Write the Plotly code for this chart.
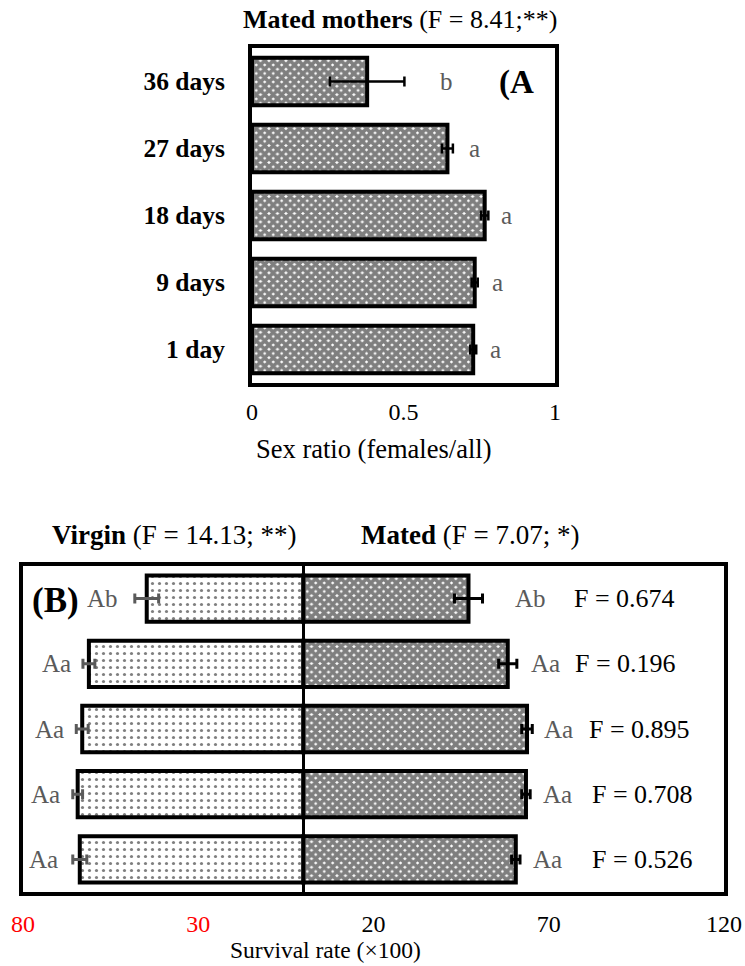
import plotly.graph_objects as go

# ---------------- data ----------------
days = ["1 day", "9 days", "18 days", "27 days", "36 days"]

sex_ratio = [0.730, 0.735, 0.768, 0.645, 0.380]
sex_ratio_err = [0.010, 0.010, 0.012, 0.018, 0.123]
sex_letters = ["a", "a", "a", "a", "b"]

virgin = [63.8, 64.4, 63.1, 61.2, 44.7]
virgin_err = [2.0, 1.4, 1.7, 1.7, 3.4]
virgin_letters = ["Aa", "Aa", "Aa", "Aa", "Ab"]

mated = [60.6, 63.5, 63.8, 58.3, 47.1]
mated_err = [1.2, 1.2, 1.5, 2.6, 4.0]
mated_letters = ["Aa", "Aa", "Aa", "Aa", "Ab"]

f_texts = ["F = 0.526", "F = 0.708", "F = 0.895", "F = 0.196", "F = 0.674"]

b_tickvals = [-80, -30, 20, 70, 120]
b_ticktext = ["80", "30", "20", "70", "120"]
b_tickcolors = ["red", "red", "black", "black", "black"]

# ---------------- style ----------------
W, H = 745, 966
FONT = "Liberation Serif"
GRAY = "#5a5a5a"


def px2x(px):
    return px / W


def px2y(py):
    return 1 - py / H


check = dict(shape="x", bgcolor="white", fgcolor="black", size=6, solidity=0.85)
dots = dict(shape=".", bgcolor="white", fgcolor="black", size=7, solidity=0.16)

fig = go.Figure()

# Panel A
fig.add_trace(go.Bar(
    x=sex_ratio, y=days, orientation="h",
    marker=dict(color="white", pattern=check, line=dict(color="black", width=4)),
    error_x=dict(type="data", array=sex_ratio_err, color="black", thickness=2.5, width=5),
    xaxis="x", yaxis="y", showlegend=False,
))

# Panel B
fig.add_trace(go.Bar(
    x=[-v for v in virgin], y=days, orientation="h",
    marker=dict(color="white", pattern=dots, line=dict(color="black", width=4)),
    error_x=dict(type="data", array=virgin_err, color=GRAY, thickness=3, width=5),
    xaxis="x2", yaxis="y2", showlegend=False,
))
fig.add_trace(go.Bar(
    x=mated, y=days, orientation="h",
    marker=dict(color="white", pattern=check, line=dict(color="black", width=4)),
    error_x=dict(type="data", array=mated_err, color="black", thickness=3, width=5),
    xaxis="x2", yaxis="y2", showlegend=False,
))

frame = dict(showline=True, mirror=True, linewidth=4, linecolor="black",
             showgrid=False, zeroline=False, ticks="", automargin=False)

fig.update_layout(
    width=W, height=H,
    margin=dict(l=0, r=0, t=0, b=0, autoexpand=False),
    paper_bgcolor="white", plot_bgcolor="white",
    barmode="overlay", bargap=0.29,
    font=dict(family=FONT, size=24, color="black"),
    xaxis=dict(domain=[px2x(252), px2x(555)], range=[0, 1],
               tickvals=[0, 0.5, 1], ticktext=["0", "0.5", "1"],
               anchor="y", ticklabelstandoff=4, **frame),
    yaxis=dict(domain=[px2y(383), px2y(48)], anchor="x",
               categoryorder="array", categoryarray=days,
               tickvals=days, ticktext=[f"<b>{d}</b>" for d in days],
               tickfont=dict(size=25.5),
               ticklabelstandoff=18, **frame),
    xaxis2=dict(domain=[px2x(23), px2x(724)], range=[-80, 120], anchor="y2",
                tickvals=b_tickvals,
                ticktext=[f'<span style="color:{c}">{t}</span>' for t, c in zip(b_ticktext, b_tickcolors)],
                ticklabelstandoff=7,
                **{**frame, "zeroline": True}, zerolinewidth=3, zerolinecolor="black"),
    yaxis2=dict(domain=[px2y(892), px2y(566)], anchor="x2",
                categoryorder="array", categoryarray=days,
                showticklabels=False, **frame),
)

ann = []
# panel A letters
a_shift = [12, 12, 11, 14, 34]
for d, v, e, t, s in zip(days, sex_ratio, sex_ratio_err, sex_letters, a_shift):
    ann.append(dict(x=v + e, y=d, xref="x", yref="y", text=t, showarrow=False,
                    xanchor="left", yanchor="middle", xshift=s, font=dict(size=25, color=GRAY)))
# panel B left letters
vl_shift = [13, 11, 10, 10, 15]
for d, v, e, t, s in zip(days, virgin, virgin_err, virgin_letters, vl_shift):
    ann.append(dict(x=-(v + e), y=d, xref="x2", yref="y2", text=t, showarrow=False,
                    xanchor="right", yanchor="middle", xshift=-s, font=dict(size=25, color=GRAY)))
# panel B right letters
ml_shift = [11, 11, 10, 12, 30]
for d, v, e, t, s in zip(days, mated, mated_err, mated_letters, ml_shift):
    ann.append(dict(x=v + e, y=d, xref="x2", yref="y2", text=t, showarrow=False,
                    xanchor="left", yanchor="middle", xshift=s, font=dict(size=25, color=GRAY)))
# F values
f_left = [590, 590, 587, 573, 572]
for d, t, xl in zip(days, f_texts, f_left):
    ann.append(dict(x=px2x(xl), y=d, xref="paper", yref="y2", text=t, showarrow=False,
                    xanchor="left", yanchor="middle", font=dict(size=26, color="black")))


def label(xpx, ypx, text, size):
    return dict(x=px2x(xpx), y=px2y(ypx), xref="paper", yref="paper", showarrow=False,
                xanchor="center", yanchor="middle", text=text, font=dict(size=size))


ann += [
    label(400, 19, "<b>Mated mothers</b> (F = 8.41;**)", 26),
    label(373, 449, "Sex ratio (females/all)", 26.5),
    label(516, 82, "<b>(A</b>", 33),
    label(174, 535, "<b>Virgin</b> (F = 14.13; **)", 27),
    label(470, 535, "<b>Mated</b> (F = 7.07; *)", 27),
    label(56, 600, "<b>(B)</b>", 35),
    label(325, 950, "Survival rate (×100)", 23.5),
]
fig.update_layout(annotations=ann)

fig.write_html("out.html")
